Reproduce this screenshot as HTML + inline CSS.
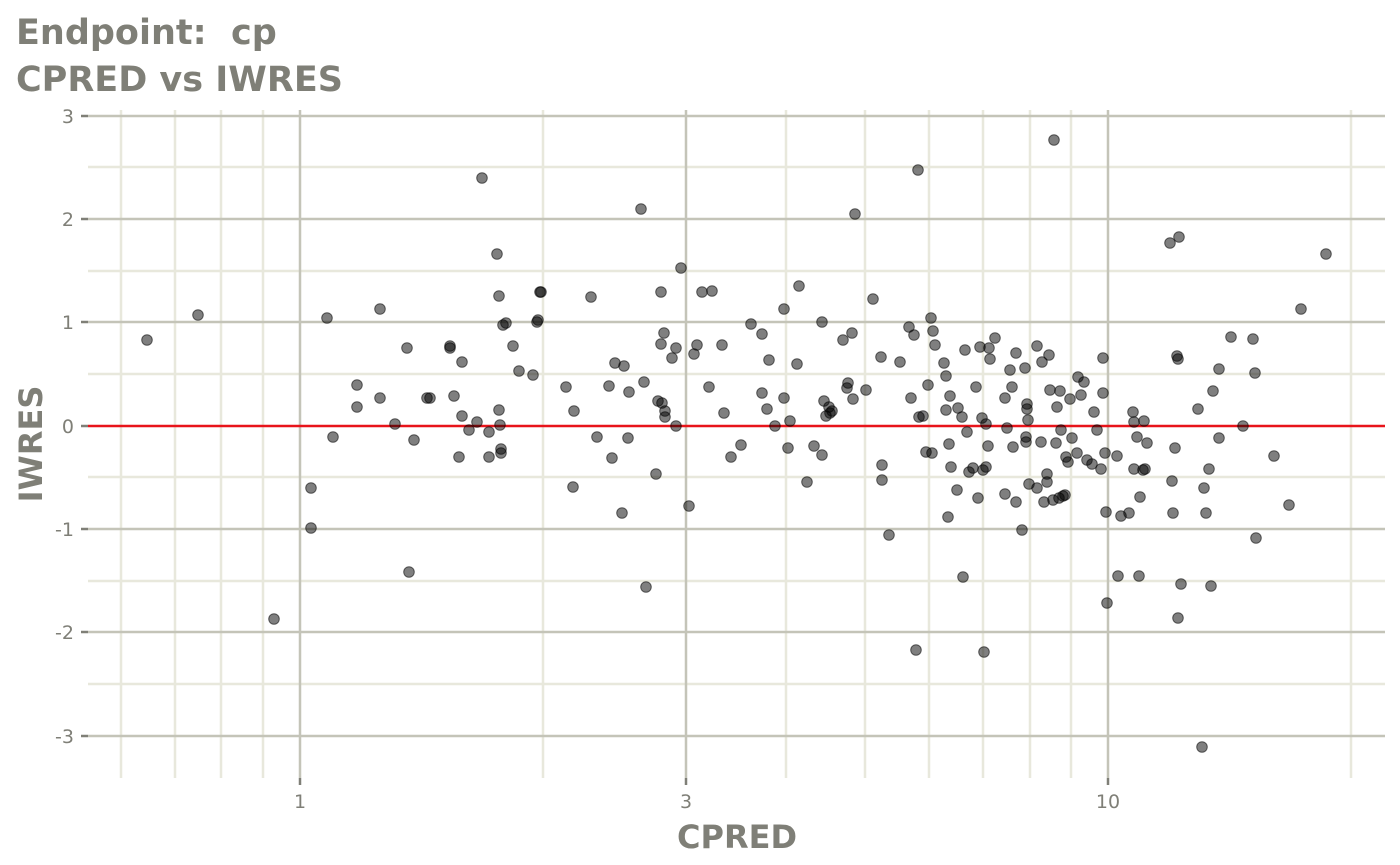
<!DOCTYPE html>
<html><head><meta charset="utf-8"><style>
html,body{margin:0;padding:0;background:#fff;}
svg{display:block;font-family:"DejaVu Sans","Liberation Sans",sans-serif;}
</style></head><body>
<svg width="1400" height="865" viewBox="0 0 1400 865" xmlns="http://www.w3.org/2000/svg">
<text x="16" y="44" font-size="35" font-weight="bold" fill="#7f7f77" xml:space="preserve">Endpoint:  cp</text>
<text x="16" y="91" font-size="35" font-weight="bold" fill="#7f7f77">CPRED vs IWRES</text>
<g stroke="#e8e8dc" stroke-width="2.5">
<line x1="88" x2="1385" y1="167" y2="167"/><line x1="88" x2="1385" y1="271" y2="271"/><line x1="88" x2="1385" y1="374" y2="374"/><line x1="88" x2="1385" y1="477" y2="477"/><line x1="88" x2="1385" y1="581" y2="581"/><line x1="88" x2="1385" y1="684" y2="684"/>
<line x1="121" x2="121" y1="110" y2="778"/><line x1="175" x2="175" y1="110" y2="778"/><line x1="221" x2="221" y1="110" y2="778"/><line x1="263" x2="263" y1="110" y2="778"/>
<line x1="543" x2="543" y1="110" y2="778"/><line x1="786" x2="786" y1="110" y2="778"/><line x1="865" x2="865" y1="110" y2="778"/><line x1="929" x2="929" y1="110" y2="778"/><line x1="983" x2="983" y1="110" y2="778"/><line x1="1030" x2="1030" y1="110" y2="778"/><line x1="1071" x2="1071" y1="110" y2="778"/><line x1="1351" x2="1351" y1="110" y2="778"/>
</g>
<g stroke="#c4c4b8" stroke-width="2.5">
<line x1="88" x2="1385" y1="116" y2="116"/><line x1="88" x2="1385" y1="219" y2="219"/><line x1="88" x2="1385" y1="322" y2="322"/><line x1="88" x2="1385" y1="529" y2="529"/><line x1="88" x2="1385" y1="632" y2="632"/><line x1="88" x2="1385" y1="736" y2="736"/>
<line x1="300" x2="300" y1="110" y2="778"/><line x1="686" x2="686" y1="110" y2="778"/><line x1="1108" x2="1108" y1="110" y2="778"/>
</g>
<g stroke="#7f7f77" stroke-width="2.5">
<line x1="81" x2="88" y1="116" y2="116"/><line x1="81" x2="88" y1="219" y2="219"/><line x1="81" x2="88" y1="322" y2="322"/><line x1="81" x2="88" y1="426" y2="426"/><line x1="81" x2="88" y1="529" y2="529"/><line x1="81" x2="88" y1="632" y2="632"/><line x1="81" x2="88" y1="736" y2="736"/>
<line x1="300" x2="300" y1="778" y2="785"/><line x1="686" x2="686" y1="778" y2="785"/><line x1="1108" x2="1108" y1="778" y2="785"/>
</g>
<g font-size="19" fill="#7f7f77" text-anchor="end">
<text x="74" y="123">3</text><text x="74" y="226">2</text><text x="74" y="329">1</text><text x="74" y="433">0</text><text x="74" y="536">-1</text><text x="74" y="639">-2</text><text x="74" y="743">-3</text>
</g>
<g font-size="19" fill="#7f7f77" text-anchor="middle">
<text x="300" y="808">1</text><text x="686" y="808">3</text><text x="1108" y="808">10</text>
</g>
<text x="737" y="848" font-size="32" font-weight="bold" fill="#7f7f77" text-anchor="middle">CPRED</text>
<text transform="translate(42,444) rotate(-90)" font-size="32" font-weight="bold" fill="#7f7f77" text-anchor="middle">IWRES</text>
<line x1="88" x2="1385" y1="426" y2="426" stroke="#e8141a" stroke-width="2.5"/>
<g id="pts" fill="rgba(0,0,0,0.5)" stroke="rgba(0,0,0,0.55)" stroke-width="1"></g>
</svg>
<script>
var p=[[147,340],[198,315],[274,619],[311,488],[311,528],[327,318],[333,437],[357,385],[357,407],[380,309],[380,398],[395,424],[407,348],[409,572],[414,440],[427,398],[430,398],[450,346],[450,348],[454,396],[459,457],[462,362],[462,416],[469,430],[477,422],[482,178],[489,432],[489,457],[497,254],[499,296],[499,410],[500,425],[501,449],[501,453],[503,325],[506,323],[513,346],[519,371],[533,375],[537,322],[538,320],[540,292],[541,292],[566,387],[573,487],[574,411],[591,297],[597,437],[609,386],[612,458],[615,363],[622,513],[624,366],[628,438],[629,392],[641,209],[644,382],[646,587],[656,474],[658,401],[661,292],[661,344],[662,403],[664,333],[665,411],[665,417],[672,358],[676,426],[676,348],[681,268],[689,506],[694,354],[697,345],[702,292],[709,387],[712,291],[722,345],[724,413],[731,457],[741,445],[751,324],[762,334],[762,393],[767,409],[769,360],[775,426],[784,398],[784,309],[788,448],[790,421],[799,286],[797,364],[807,482],[814,446],[822,322],[822,455],[824,401],[826,416],[829,407],[830,413],[832,411],[843,340],[847,388],[848,383],[852,333],[853,399],[855,214],[866,390],[873,299],[881,357],[882,465],[882,480],[889,535],[900,362],[909,327],[911,398],[914,335],[916,650],[918,170],[919,417],[923,416],[926,452],[928,385],[931,318],[933,331],[932,453],[935,345],[944,363],[946,376],[946,410],[948,517],[949,444],[950,396],[951,467],[957,490],[958,408],[962,417],[963,577],[965,350],[967,432],[969,472],[973,468],[976,387],[978,498],[980,347],[982,418],[983,470],[984,652],[986,467],[986,424],[988,446],[989,348],[990,359],[995,338],[1005,398],[1005,494],[1007,428],[1010,370],[1012,387],[1013,447],[1016,353],[1016,502],[1022,530],[1025,368],[1026,442],[1026,437],[1027,409],[1027,404],[1028,420],[1029,484],[1037,346],[1037,488],[1041,442],[1042,362],[1044,502],[1047,474],[1047,482],[1049,355],[1050,390],[1053,500],[1054,140],[1056,443],[1057,407],[1059,498],[1060,391],[1061,430],[1063,496],[1065,495],[1066,457],[1068,462],[1070,399],[1072,438],[1078,377],[1077,453],[1081,395],[1084,382],[1087,460],[1092,464],[1094,412],[1097,430],[1101,469],[1103,358],[1103,393],[1105,453],[1106,512],[1107,603],[1117,456],[1118,576],[1121,516],[1129,513],[1133,412],[1134,469],[1134,422],[1137,437],[1139,576],[1140,497],[1143,470],[1145,469],[1144,421],[1147,443],[1170,243],[1172,481],[1173,513],[1175,448],[1177,356],[1178,359],[1178,618],[1179,237],[1181,584],[1198,409],[1202,747],[1204,488],[1206,513],[1209,469],[1211,586],[1213,391],[1219,369],[1219,438],[1231,337],[1243,426],[1253,339],[1255,373],[1256,538],[1274,456],[1289,505],[1301,309],[1326,254]];
var g=document.getElementById('pts'),s='';
p.forEach(function(a){s+='<circle cx="'+a[0]+'" cy="'+a[1]+'" r="5.3"/>';});
g.innerHTML=s;
</script>
</body></html>
